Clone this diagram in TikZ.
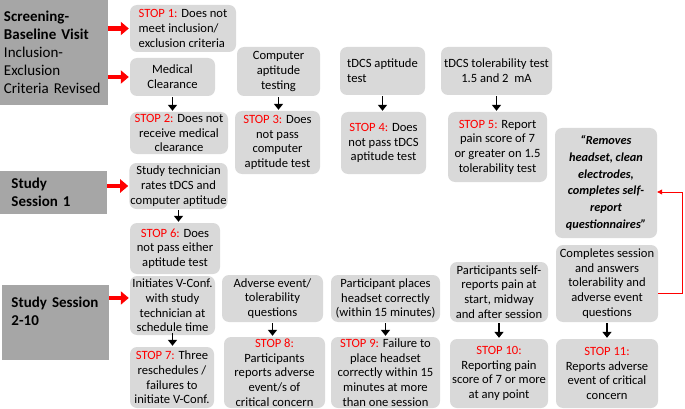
\documentclass[tikz,border=0pt]{standalone}
\usepackage{fontspec}
\setmainfont{Carlito}
\usetikzlibrary{arrows.meta}

\definecolor{sidegray}{RGB}{166,166,166}
\definecolor{boxgray}{RGB}{217,217,217}
\newcommand{\stp}[1]{\textcolor{red}{STOP #1:}}

\tikzset{
	sidebox/.style={fill=sidegray, align=left, inner sep=0pt, font=\fontsize{15}{18}\selectfont},
	stepbox/.style={fill=boxgray, rounded corners=7pt, align=center, inner sep=1pt, font=\fontsize{12.6}{14.7}\selectfont},
	redarrow/.style={red, line width=4.5pt, -{Triangle[length=8pt,width=13pt]}, shorten >=1pt},
	blkarrow/.style={black, line width=1.8pt, -{Triangle[length=6pt,width=9pt]}, shorten <=1pt, shorten >=1pt}
}

\begin{document}
\begin{tikzpicture}[x=1pt,y=-1pt]
		\useasboundingbox (0,0) rectangle (685,409);

		\node[sidebox, minimum width=108, minimum height=105, text width=100] (screen) at (54,52.5) {\textbf{Screening-}\\\textbf{Baseline Visit}\\Inclusion-\\Exclusion\\Criteria Revised};
		\node[sidebox, minimum width=107, minimum height=43, text width=84] (sess1) at (53.5,192.5) {\textbf{Study}\\\textbf{Session 1}};
		\node[sidebox, minimum width=107, minimum height=75, text width=88] (sess2) at (55.5,322.5) {\mbox{\textbf{Study Session}}\\\textbf{2-10}\\\strut};

		\node[stepbox, minimum width=106, minimum height=47, align=left] (stop1) at (183,28.5) {\stp{1} Does not\\meet inclusion/\\exclusion criteria};
		\node[stepbox, minimum width=85, minimum height=38] (medical) at (172.5,77) {Medical\\Clearance};
		\node[stepbox, minimum width=98, minimum height=42] (stop2) at (179,133) {\stp{2} Does not\\receive medical\\clearance};
		\node[stepbox, minimum width=97, minimum height=46] (studytech) at (178.5,186) {Study technician\\rates tDCS and\\computer aptitude};
		\node[stepbox, minimum width=90, minimum height=51] (stop6) at (175,248.5) {\stp{6} Does\\not pass either\\aptitude test};
		\node[stepbox, minimum width=85, minimum height=59] (initiates) at (172.5,305.5) {Initiates V-Conf.\\with study\\technician at\\schedule time};
		\node[stepbox, minimum width=84, minimum height=61] (stop7) at (172,377.5) {\stp{7} Three\\reschedules /\\failures to\\initiate V-Conf.};

		\node[stepbox, minimum width=83, minimum height=49] (computer) at (278.5,71.5) {Computer\\aptitude\\testing};
		\node[stepbox, minimum width=85, minimum height=63] (stop3) at (277.5,142.5) {\stp{3} Does\\not pass\\computer\\aptitude test};
		\node[stepbox, minimum width=101, minimum height=47] (adverse) at (272.5,298.5) {Adverse event/\\tolerability\\questions};
		\node[stepbox, minimum width=101, minimum height=71] (stop8) at (274.5,372.5) {\stp{8}\\Participants\\reports adverse\\event/s of\\critical concern};

		\node[stepbox, minimum width=85, minimum height=48, align=left] (tdcsapt) at (382.5,71) {tDCS aptitude\\test};
		\node[stepbox, minimum width=85, minimum height=62] (stop4) at (383.5,143) {\stp{4} Does\\not pass tDCS\\aptitude test};
		\node[stepbox, minimum width=109, minimum height=47] (places) at (385.5,298.5) {Participant places\\headset correctly\\(within 15 minutes)};
		\node[stepbox, minimum width=109, minimum height=71] (stop9) at (385.5,372.5) {\stp{9} Failure to\\place headset\\correctly within 15\\minutes at more\\than one session};

		\node[stepbox, minimum width=111, minimum height=48] (toltest) at (496.5,71) {tDCS tolerability test\\1.5 and 2~~mA};
		\node[stepbox, minimum width=99, minimum height=70] (stop5) at (497.5,147) {\stp{5} Report\\pain score of 7\\or greater on 1.5\\tolerability test};
		\node[stepbox, minimum width=98, minimum height=60] (selfrep) at (499,292) {Participants self-\\reports pain at\\start, midway\\and after session};
		\node[stepbox, minimum width=98, minimum height=69] (stop10) at (499,373.5) {\stp{10}\\Reporting pain\\score of 7 or more\\at any point};

		\node[stepbox, minimum width=102, minimum height=110, font=\fontsize{12.3}{16.7}\selectfont\bfseries\itshape] (removes) at (606,183) {“Removes\\headset, clean\\electrodes,\\completes self-\\report\\questionnaires”};
		\node[stepbox, minimum width=102, minimum height=77] (completes) at (607,283.5) {Completes session\\and answers\\tolerability and\\adverse event\\questions};
		\node[stepbox, minimum width=102, minimum height=69] (stop11) at (607,373.5) {\stp{11}\\Reports adverse\\event of critical\\concern};

		\draw[redarrow] (screen.east |- stop1.west) -- (stop1.west);
		\draw[redarrow] (screen.east |- medical.west) -- (medical.west);
		\draw[redarrow] (sess1.east |- studytech.west) -- (studytech.west);
		\draw[redarrow] (sess2.east |- initiates.170) -- (initiates.170);

		\draw[blkarrow] (medical.south) -- (medical.south |- stop2.north);
		\draw[blkarrow] (computer.south) -- (computer.south |- stop3.north);
		\draw[blkarrow] (tdcsapt.south) -- (tdcsapt.south |- stop4.north);
		\draw[blkarrow] (toltest.south) -- (toltest.south |- stop5.north);
		\draw[blkarrow] (studytech.south) -- (studytech.south |- stop6.north);
		\draw[blkarrow] ([yshift=3pt]initiates.south) -- (initiates.south |- stop7.north);
		\draw[blkarrow] (adverse.south) -- (adverse.south |- stop8.north);
		\draw[blkarrow] (places.south) -- (places.south |- stop9.north);
		\draw[blkarrow] (selfrep.south) -- (selfrep.south |- stop10.north);
		\draw[blkarrow] (completes.south) -- (completes.south |- stop11.north);

		\draw[red, thick, -{Triangle[length=5pt,width=5pt]}] ([yshift=-10pt]completes.east) -- ++(24,0) |- ([yshift=-9pt]removes.east);
	\end{tikzpicture}
\end{document}
